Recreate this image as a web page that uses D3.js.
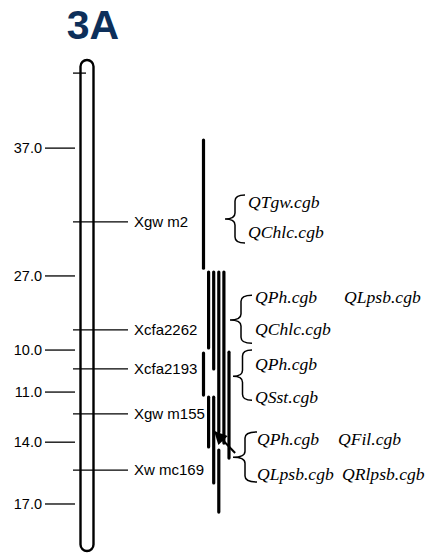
<!DOCTYPE html>
<html>
<head>
<meta charset="utf-8">
<script src="https://cdn.jsdelivr.net/npm/d3@7"></script>
<style>
  body { margin: 0; background: #fff; }
  svg { display: block; }
</style>
</head>
<body>
<div id="chart"></div>
<script>
// chromosome length and scale (cM-like units)
const chromLength = 164.3;

// left-side ruler
const tickPos = [29.7, 72.3, 97, 111, 127.7, 148.3];
const tickLabels = ["37.0", "27.0", "10.0", "11.0", "14.0", "17.0"];

// markers on the right of the chromosome
const markerPos = [4.7, 54.3, 90.3, 103.3, 118.3, 137];
const markerNames = ["", "Xgw m2", "Xcfa2262", "Xcfa2193", "Xgw m155", "Xw mc169"];

// QTL intervals: track, start, end
const qtlTrack = [0, 1, 2, 3, 4, 0, 5, 1, 2, 3];
const qtlStart = [27, 71, 71, 71, 71, 98, 97.7, 112.7, 112.7, 130.3];
const qtlEnd = [69.7, 96.3, 103.3, 124.3, 128, 112, 133, 129.3, 141.3, 151];

// brace groups
const braceTop = [45.3, 78.7, 97, 124.3];
const braceTip = [53.3, 87, 105.7, 132.7];
const braceBottom = [61.3, 94.7, 113.7, 141];
const row1Pos = [49.7, 81.3, 103.7, 128.7];
const row2Pos = [59.7, 92, 114.7, 140.3];
const row1Names = [["QTgw.cgb"], ["QPh.cgb", "QLpsb.cgb"], ["QPh.cgb"], ["QPh.cgb", "QFil.cgb"]];
const row2Names = [["QChlc.cgb"], ["QChlc.cgb"], ["QSst.cgb"], ["QLpsb.cgb", "QRlpsb.cgb"]];

// arrow: [track, pos] from -> to
const arrowFrom = [6.2, 131.3];
const arrowTo = [2.25, 124.3];

const width = 427, height = 554;
const svg = d3.select("#chart").append("svg")
    .attr("width", width)
    .attr("height", height);

const y = d3.scaleLinear().domain([0, chromLength]).range([59, 552]);
const xTrack = d3.scaleLinear().domain([0, 5]).range([203.5, 229]);

svg.append("defs").append("marker")
    .attr("id", "head")
    .attr("viewBox", "0 0 10 10")
    .attr("refX", 9).attr("refY", 5)
    .attr("markerWidth", 7).attr("markerHeight", 6.5)
    .attr("markerUnits", "strokeWidth")
    .attr("orient", "auto")
    .append("path")
    .attr("d", "M0,0 L10,5 L0,10 z")
    .attr("fill", "#000");

// title
svg.append("text")
    .attr("x", 93).attr("y", 38.5)
    .attr("text-anchor", "middle")
    .attr("font-family", "Liberation Sans, Arial, sans-serif")
    .attr("font-weight", "bold")
    .attr("font-size", 41)
    .attr("fill", "#0d2f5a")
    .text("3A");

// ruler ticks
const ruler = svg.append("g");
ruler.selectAll("line")
    .data(tickPos)
    .join("line")
    .attr("x1", 45).attr("x2", 75)
    .attr("y1", d => y(d)).attr("y2", d => y(d))
    .attr("stroke", "#000").attr("stroke-width", 1.3);
ruler.selectAll("text")
    .data(tickPos)
    .join("text")
    .attr("x", 42)
    .attr("y", d => y(d))
    .attr("dy", "0.36em")
    .attr("text-anchor", "end")
    .attr("font-family", "Liberation Sans, Arial, sans-serif")
    .attr("font-size", 14.5)
    .text((d, i) => tickLabels[i]);

// chromosome
svg.append("rect")
    .attr("x", 80.5).attr("width", 13)
    .attr("y", y(0) + 1).attr("height", y(chromLength) - y(0) - 2)
    .attr("rx", 6.5).attr("ry", 6.5)
    .attr("fill", "#fff")
    .attr("stroke", "#000").attr("stroke-width", 2.4);

// markers
const markers = svg.append("g");
markers.selectAll("line")
    .data(markerPos)
    .join("line")
    .attr("x1", 73)
    .attr("x2", (d, i) => markerNames[i] ? 128 : 86)
    .attr("y1", d => y(d)).attr("y2", d => y(d))
    .attr("stroke", "#000").attr("stroke-width", 1.3);
markers.selectAll("text")
    .data(markerPos)
    .join("text")
    .attr("x", 134)
    .attr("y", d => y(d))
    .attr("dy", "0.36em")
    .attr("font-family", "Liberation Sans, Arial, sans-serif")
    .attr("font-size", 15)
    .text((d, i) => markerNames[i]);

// QTL bars
svg.append("g").selectAll("line")
    .data(qtlTrack)
    .join("line")
    .attr("x1", d => xTrack(d)).attr("x2", d => xTrack(d))
    .attr("y1", (d, i) => y(qtlStart[i]))
    .attr("y2", (d, i) => y(qtlEnd[i]))
    .attr("stroke", "#000").attr("stroke-width", 3.2)
    .attr("stroke-linecap", "round");

// arrow
svg.append("line")
    .attr("x1", xTrack(arrowFrom[0])).attr("y1", y(arrowFrom[1]))
    .attr("x2", xTrack(arrowTo[0])).attr("y2", y(arrowTo[1]))
    .attr("stroke", "#000").attr("stroke-width", 2)
    .attr("marker-end", "url(#head)");

// braces
const braceLeft = [225, 230, 233, 233];
const braceRight = [245, 252, 252, 257];
function bracePath(xl, xr, y0, ym, y1) {
    const xm = (xl + xr) / 2;
    const r = 6;
    return `M${xr},${y0} Q${xm},${y0} ${xm},${y0 + r} L${xm},${ym - r} Q${xm},${ym} ${xl},${ym}` +
        ` Q${xm},${ym} ${xm},${ym + r} L${xm},${y1 - r} Q${xm},${y1} ${xr},${y1}`;
}
svg.append("g").selectAll("path")
    .data(braceTop)
    .join("path")
    .attr("d", (d, i) => bracePath(braceLeft[i], braceRight[i], y(d), y(braceTip[i]), y(braceBottom[i])))
    .attr("fill", "none")
    .attr("stroke", "#000").attr("stroke-width", 1.5);

// QTL names
const nameX = [[248], [255, 344], [255], [257, 338]];
const nameX2 = [[248], [255], [255], [257, 342]];
const names = svg.append("g")
    .attr("font-family", "Liberation Serif, Times New Roman, serif")
    .attr("font-style", "italic")
    .attr("font-size", 17.6);
row1Names.forEach((row, i) => {
    row.forEach((n, j) => {
        names.append("text").attr("x", nameX[i][j]).attr("y", y(row1Pos[i])).text(n);
    });
});
row2Names.forEach((row, i) => {
    row.forEach((n, j) => {
        names.append("text").attr("x", nameX2[i][j]).attr("y", y(row2Pos[i])).text(n);
    });
});
</script>
</body>
</html>
